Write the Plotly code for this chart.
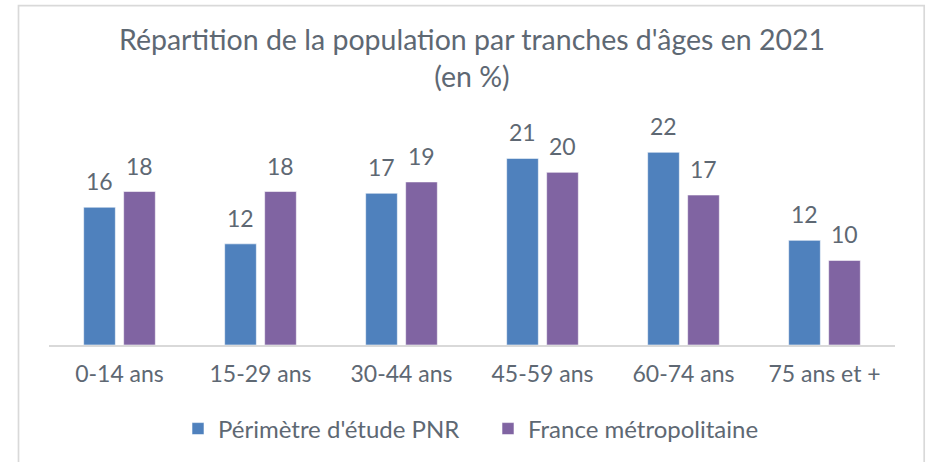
import plotly.graph_objects as go

# Age brackets and shares of population (%) in 2021
categories = ["0-14 ans", "15-29 ans", "30-44 ans", "45-59 ans", "60-74 ans", "75 ans et +"]
pnr_values = [15.8, 11.6, 17.4, 21.4, 22.1, 12.0]
france_values = [17.6, 17.6, 18.7, 19.8, 17.2, 9.7]
series_names = ["Périmètre d'étude PNR", "France métropolitaine"]

BLUE = "#4F81BD"
PURPLE = "#8064A2"
TEXT = "#5E6873"
FONT = "Lato"

W, H = 932, 462
ML, MR, MT, MB = 49, 37, 127, 117

fig = go.Figure()
for name, vals, col, leg in [(series_names[0], pnr_values, BLUE, "legend"),
                             (series_names[1], france_values, PURPLE, "legend2")]:
    fig.add_trace(go.Bar(
        x=categories, y=vals, name=name, legend=leg,
        marker=dict(color=col, line=dict(color="rgba(255,255,255,0.7)", width=0.8)),
        hoverinfo="skip",
    ))

# value labels above each bar, rounded to whole percent
for vals, shift in [(pnr_values, -20), (france_values, 20)]:
    for c, v in zip(categories, vals):
        fig.add_annotation(
            x=c, y=v, xref="x", yref="y", text=f"{v:.0f}",
            showarrow=False, xshift=shift, yshift=26, yanchor="middle",
            font=dict(family=FONT, size=23, color=TEXT),
        )

# chart frame
pw, ph = W - ML - MR, H - MT - MB
def px_x(p):
    return (p - ML) / pw
def px_y(p):
    return (H - MB - p) / ph
fig.add_shape(type="rect", xref="paper", yref="paper",
              x0=px_x(18.5), x1=px_x(924.2), y0=px_y(475), y1=px_y(5.7),
              line=dict(color="#D9D9D9", width=1.7), layer="below")

legend_style = dict(
    orientation="h", xanchor="left", xref="container",
    y=(H - 429) / H, yanchor="middle", yref="container",
    font=dict(family=FONT, size=24, color=TEXT),
    itemwidth=30, bgcolor="rgba(0,0,0,0)",
)

fig.update_layout(
    width=W, height=H,
    margin=dict(l=ML, r=MR, t=MT, b=MB, autoexpand=False),
    paper_bgcolor="white", plot_bgcolor="white",
    barmode="group", bargap=0.433, bargroupgap=0.2075,
    title=dict(
        text="Répartition de la population par tranches d'âges en 2021<br>(en %)",
        x=0.5, xref="paper", xanchor="center",
        y=1 - 50 / H, yref="container", yanchor="top",
        font=dict(family=FONT, size=28.5, color=TEXT),
    ),
    xaxis=dict(
        showline=True, linecolor="#D9D9D9", linewidth=2,
        showgrid=False, ticks="", ticklabelstandoff=7,
        tickfont=dict(family=FONT, size=23, color=TEXT),
    ),
    yaxis=dict(range=[0, 25], visible=False, showgrid=False),
    legend=dict(x=(218 - 40) / W, **legend_style),
    legend2=dict(x=(528 - 40) / W, **legend_style),
    showlegend=True,
)

fig.write_html("out.html")
